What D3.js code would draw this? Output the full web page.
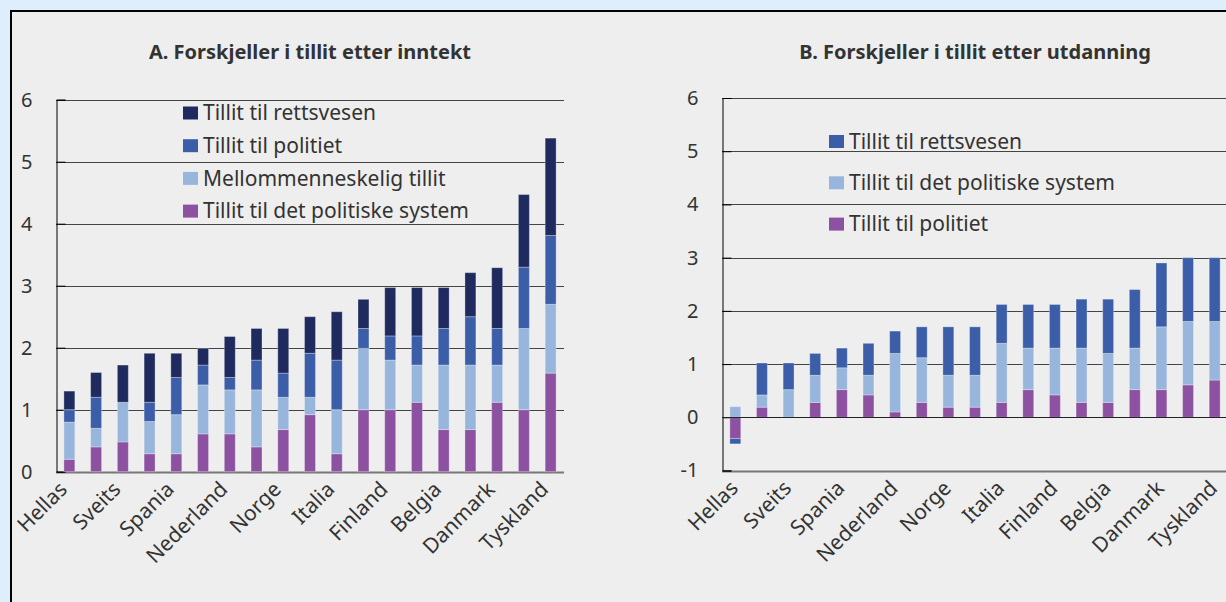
<!DOCTYPE html>
<html>
<head>
<meta charset="utf-8">
<script src="https://cdn.jsdelivr.net/npm/d3@7"></script>
<style>
  html, body { margin: 0; padding: 0; background: #dfeefc; }
  svg { display: block; font-family: "Noto Sans", "Open Sans", sans-serif; }
</style>
</head>
<body>
<svg id="chart" width="1226" height="602"></svg>
<script>
// Countries, every second one labelled on the axis
const countries = ["Hellas", "", "Sveits", "", "Spania", "", "Nederland", "", "Norge", "",
                   "Italia", "", "Finland", "", "Belgia", "", "Danmark", "", "Tyskland"];

// A. Differences in trust by income (stacked from the bottom)
const incomePolSystem    = [0.20, 0.40, 0.48, 0.29, 0.29, 0.61, 0.61, 0.40, 0.68, 0.92, 0.29, 1.00, 1.00, 1.12, 0.68, 0.68, 1.12, 1.00, 1.59];
const incomeInterpersonal = [0.60, 0.30, 0.64, 0.52, 0.63, 0.79, 0.71, 0.92, 0.52, 0.28, 0.71, 0.99, 0.80, 0.60, 1.04, 1.04, 0.60, 1.31, 1.11];
const incomePolice       = [0.20, 0.50, 0.00, 0.31, 0.60, 0.32, 0.20, 0.48, 0.39, 0.71, 0.80, 0.32, 0.39, 0.47, 0.59, 0.78, 0.59, 0.99, 1.11];
const incomeJustice      = [0.30, 0.40, 0.60, 0.79, 0.39, 0.27, 0.66, 0.51, 0.72, 0.59, 0.78, 0.47, 0.78, 0.78, 0.66, 0.71, 0.98, 1.17, 1.57];

// B. Differences in trust by education (stacked from the bottom)
const eduPolice    = [-0.40, 0.19, 0.00, 0.28, 0.52, 0.42, 0.10, 0.28, 0.19, 0.19, 0.28, 0.52, 0.42, 0.28, 0.28, 0.52, 0.52, 0.61, 0.70];
const eduPolSystem = [ 0.20, 0.23, 0.52, 0.51, 0.41, 0.37, 1.10, 0.84, 0.60, 0.60, 1.11, 0.78, 0.88, 1.02, 0.92, 0.78, 1.18, 1.19, 1.10];
const eduJustice   = [-0.10, 0.60, 0.50, 0.41, 0.37, 0.60, 0.42, 0.58, 0.91, 0.91, 0.73, 0.82, 0.82, 0.92, 1.02, 1.10, 1.20, 1.20, 1.20];

const ticksA = [0, 1, 2, 3, 4, 5, 6];
const ticksB = [-1, 0, 1, 2, 3, 4, 5, 6];

const C_NAVY = "#1f2a5e", C_BLUE = "#3c5ea8", C_LIGHT = "#98b6dc", C_PURPLE = "#8c51a0";
const FONT = '"Noto Sans", "Open Sans", sans-serif';

const svg = d3.select("#chart");

// framed panel
svg.append("rect")
  .attr("x", 11).attr("y", 11).attr("width", 1400).attr("height", 800)
  .attr("fill", "#eeeeee").attr("stroke", "#000").attr("stroke-width", 2);

function drawPanel(cfg) {
  const g = svg.append("g");
  const x = d3.scaleBand().domain(d3.range(countries.length))
    .range([cfg.left, cfg.right]).paddingInner(0.59).paddingOuter(0.295);
  const y = d3.scaleLinear().domain(cfg.domain).range([cfg.bottom, cfg.top]);

  // title
  g.append("text")
    .attr("x", (cfg.left + cfg.right) / 2).attr("y", 59)
    .attr("text-anchor", "middle").attr("font-weight", "bold")
    .attr("font-size", 20).attr("fill", "#333")
    .text(cfg.title);

  // gridlines
  g.append("g").selectAll("line").data(cfg.ticks).join("line")
    .attr("x1", cfg.left).attr("x2", cfg.right)
    .attr("y1", d => Math.round(y(d)) + 0.5).attr("y2", d => Math.round(y(d)) + 0.5)
    .attr("stroke", d => d === cfg.domain[0] ? "#777" : "#444")
    .attr("stroke-width", d => d === cfg.domain[0] ? 2 : 1);

  // y axis with inner ticks
  const yAxis = d3.axisLeft(y).tickValues(cfg.ticks).tickSize(-9).tickPadding(24)
    .tickFormat(d => String(d));
  const ya = g.append("g").attr("transform", `translate(${cfg.left + 0.5},0)`).call(yAxis);
  ya.attr("font-size", null).attr("font-family", null);
  ya.select(".domain").attr("stroke", "#000");
  ya.selectAll(".tick line").attr("stroke", "#000");
  ya.selectAll(".tick text").style("font-size", "20px").style("font-family", FONT).attr("fill", "#333");

  // stacked bars
  const rows = countries.map((c, i) => {
    const r = { i };
    cfg.series.forEach(s => { r[s.key] = s.values[i]; });
    return r;
  });
  const stack = d3.stack().keys(cfg.series.map(s => s.key)).offset(d3.stackOffsetDiverging);
  const layers = stack(rows);
  const color = d3.scaleOrdinal().domain(cfg.series.map(s => s.key)).range(cfg.series.map(s => s.color));

  g.append("g").selectAll("g").data(layers).join("g")
    .attr("fill", d => color(d.key))
    .selectAll("rect").data(d => d).join("rect")
    .attr("x", d => x(d.data.i))
    .attr("width", x.bandwidth())
    .attr("y", d => y(Math.max(d[0], d[1])))
    .attr("height", d => Math.abs(y(d[0]) - y(d[1])))
    .attr("stroke", "#ffffff").attr("stroke-opacity", 0.3).attr("stroke-width", 1);

  // zero line drawn over bars when the axis has negatives
  if (cfg.domain[0] < 0) {
    g.append("line")
      .attr("x1", cfg.left).attr("x2", cfg.right)
      .attr("y1", Math.round(y(0)) + 0.5).attr("y2", Math.round(y(0)) + 0.5)
      .attr("stroke", "#222").attr("stroke-width", 1);
  }

  // category labels, rotated
  g.append("g").selectAll("text").data(countries.map((c, i) => ({ c, i })).filter(d => d.c))
    .join("text")
    .attr("transform", d => `translate(${x(d.i) + x.bandwidth() / 2 + cfg.labelDx},${cfg.bottom + 19}) rotate(-45)`)
    .attr("text-anchor", "end")
    .style("font-size", "21px").attr("fill", "#333")
    .text(d => d.c);

  // legend
  const lg = g.append("g");
  cfg.series.slice().reverse().forEach((s, k) => {
    const cy = cfg.legend.y0 + k * cfg.legend.step;
    lg.append("rect").attr("x", cfg.legend.x).attr("y", cy - 6.5)
      .attr("width", 15).attr("height", 13).attr("fill", s.color);
    lg.append("text").attr("x", cfg.legend.x + 20).attr("y", cy)
      .attr("dy", "0.35em").style("font-size", "21px").attr("fill", "#333")
      .text(s.label);
  });
}

drawPanel({
  title: "A. Forskjeller i tillit etter inntekt",
  left: 56, right: 564, top: 99.7, bottom: 471.7,
  domain: [0, 6], ticks: ticksA, labelDx: -1,
  series: [
    { key: "polsys", label: "Tillit til det politiske system", values: incomePolSystem, color: C_PURPLE },
    { key: "inter",  label: "Mellommenneskelig tillit",        values: incomeInterpersonal, color: C_LIGHT },
    { key: "police", label: "Tillit til politiet",             values: incomePolice, color: C_BLUE },
    { key: "justice",label: "Tillit til rettsvesen",           values: incomeJustice, color: C_NAVY }
  ],
  legend: { x: 183, y0: 113, step: 32.7 }
});

drawPanel({
  title: "B. Forskjeller i tillit etter utdanning",
  left: 722, right: 1228, top: 98, bottom: 470.5,
  domain: [-1, 6], ticks: ticksB, labelDx: 4,
  series: [
    { key: "police", label: "Tillit til politiet",             values: eduPolice, color: C_PURPLE },
    { key: "polsys", label: "Tillit til det politiske system", values: eduPolSystem, color: C_LIGHT },
    { key: "justice",label: "Tillit til rettsvesen",           values: eduJustice, color: C_BLUE }
  ],
  legend: { x: 829, y0: 141.5, step: 41.3 }
});
</script>
</body>
</html>
